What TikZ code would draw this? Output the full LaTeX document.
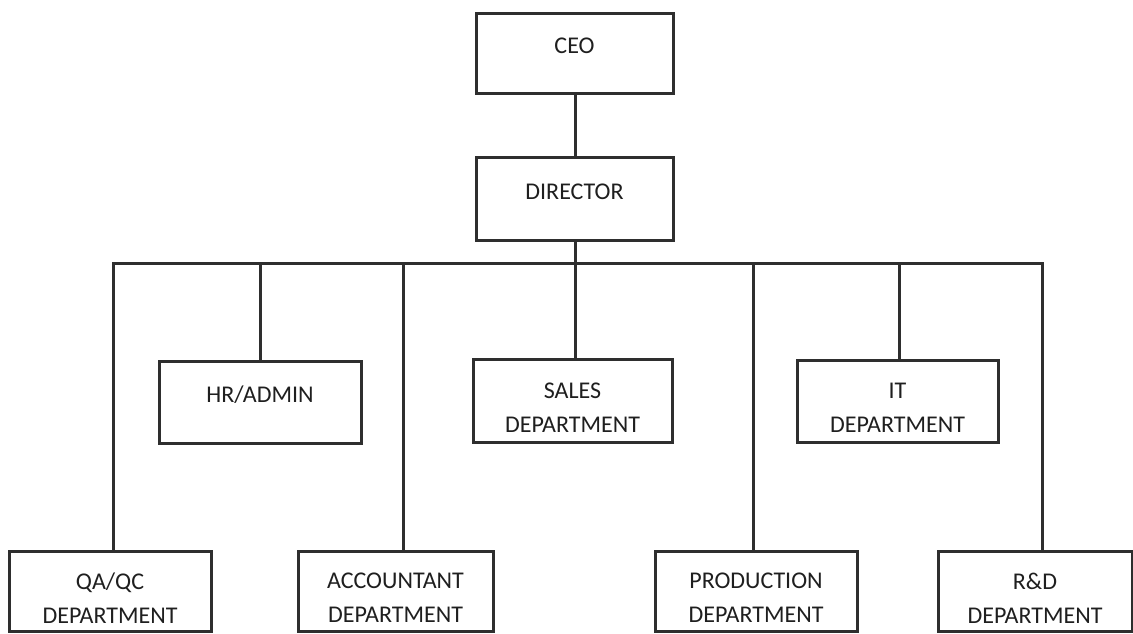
\documentclass[tikz,border=0pt]{standalone}
\usepackage{fontspec}
\setmainfont{Carlito}
\begin{document}
\begin{tikzpicture}[x=1pt,y=-1pt,
  line width=3pt,
  orgbox/.style={draw=black!82, line width=3pt, fill=white, inner sep=0pt},
  boxtext/.style={align=center, inner sep=0pt,
    font=\fontsize{24}{34}\selectfont, text=black!88},
  oneline/.style={boxtext, yshift=7pt},
  twoline/.style={boxtext, yshift=-7pt},
  link/.style={draw=black!82, line width=3pt, line join=miter}]
\useasboundingbox[fill=white] (0,0) rectangle (1133,633);

% top of the chart
\node[orgbox, minimum width=197pt, minimum height=80pt] (ceo) at (574.5,53) {};
\node[orgbox, minimum width=197pt, minimum height=83pt] (dir) at (574.5,198.5) {};

% middle row
\node[orgbox, minimum width=202pt, minimum height=82pt] (hr) at (260,402) {};
\node[orgbox, minimum width=199pt, minimum height=83pt] (sales) at (572.5,400.5) {};
\node[orgbox, minimum width=201pt, minimum height=82pt] (it) at (897.5,401) {};

% bottom row
\node[orgbox, minimum width=202pt, minimum height=80pt] (qa) at (110,591) {};
\node[orgbox, minimum width=195pt, minimum height=80pt] (acc) at (395.5,591) {};
\node[orgbox, minimum width=202pt, minimum height=80pt] (prod) at (756,591) {};
\node[orgbox, minimum width=194pt, minimum height=80pt] (rd) at (1035,591) {};

% box captions
\node[oneline] (ceo-t) at (ceo.center) {CEO};
\node[oneline] (dir-t) at (dir.center) {DIRECTOR};
\node[oneline] (hr-t) at (hr.center) {HR/ADMIN};
\node[twoline] (sales-t) at (sales.center) {SALES\\DEPARTMENT};
\node[twoline] (it-t) at (it.center) {IT\\DEPARTMENT};
\node[twoline] (qa-t) at (qa.center) {QA/QC\\DEPARTMENT};
\node[twoline] (acc-t) at (acc.center) {ACCOUNTANT\\DEPARTMENT};
\node[twoline] (prod-t) at (prod.center) {PRODUCTION\\DEPARTMENT};
\node[twoline] (rd-t) at (rd.center) {R\&D\\DEPARTMENT};

% drop points on the horizontal bus
\coordinate (bqa) at (113,263);
\coordinate (bhr) at (260,263);
\coordinate (bacc) at (403,263);
\coordinate (bsales) at (575,263);
\coordinate (bprod) at (753,263);
\coordinate (bit) at (899,263);
\coordinate (brd) at (1042,263);

% connectors
\draw[link] (ceo.south -| bsales) -- (dir.north -| bsales);
\draw[link] (dir.south -| bsales) -- (sales.north -| bsales);
\draw[link] (qa.north -| bqa) -- (bqa) -- (brd) -- (rd.north -| brd);
\draw[link] (bhr) -- (hr.north -| bhr);
\draw[link] (bacc) -- (acc.north -| bacc);
\draw[link] (bprod) -- (prod.north -| bprod);
\draw[link] (bit) -- (it.north -| bit);
\end{tikzpicture}
\end{document}
